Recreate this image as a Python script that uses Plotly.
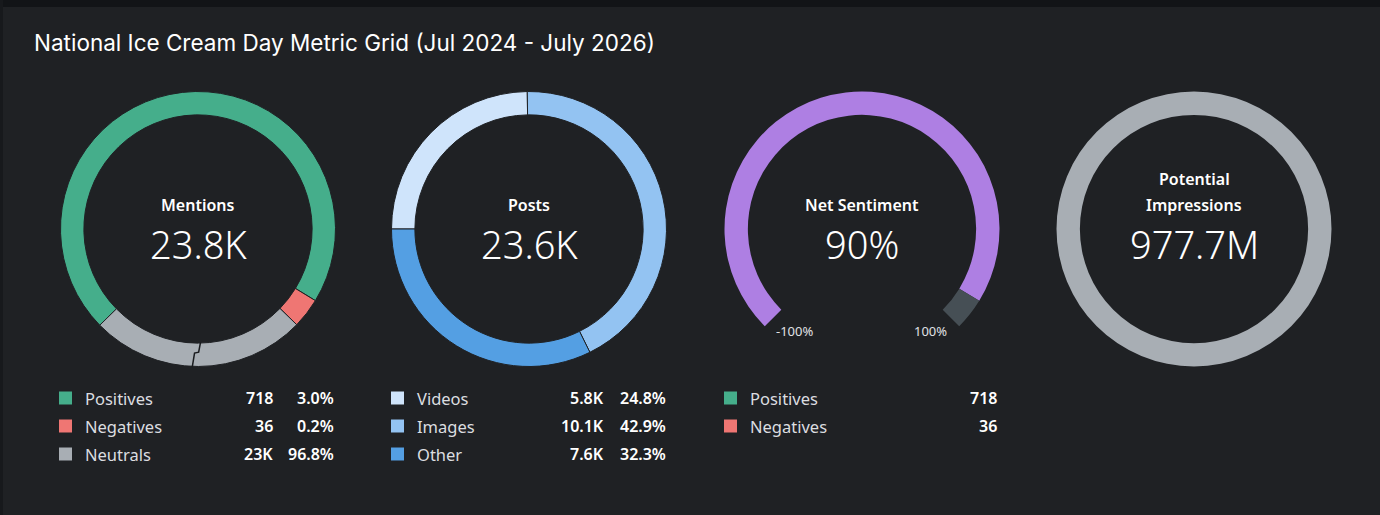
import math
import plotly.graph_objects as go

W, H = 1380, 515
BG = "#1f2124"

# ---------------- data ----------------
title_text = "National Ice Cream Day Metric Grid (Jul 2024 - July 2026)"

mention_labels = ["Positives", "Negatives", "Neutrals"]
mention_values = ["718", "36", "23K"]
mention_pcts = ["3.0%", "0.2%", "96.8%"]
mention_colors = ["#45ae8b", "#ef7673", "#a8aeb4"]
# arc spans (degrees) as drawn in the picture (neutrals drawn with an axis break)
mention_arc_deg = [255.8, 12.7, 91.5]
mention_start_deg = 225.6
mention_break_deg = 181.0
mentions_total = "23.8K"

post_labels = ["Videos", "Images", "Other"]
post_values = ["5.8K", "10.1K", "7.6K"]
post_pcts = [24.8, 42.9, 32.3]
post_colors = ["#cfe4fb", "#93c3f2", "#549fe3"]
posts_total = "23.6K"

sent_labels = ["Positives", "Negatives"]
sent_values = ["718", "36"]
sent_colors = ["#45ae8b", "#ef7673"]
net_sentiment = 90  # percent, range -100..100
sent_min, sent_max = -100, 100

impressions_total = "977.7M"

# ---------------- helpers ----------------
def px(x):
    return x / W

def py(y):
    return 1 - y / H

def dom(cx, cy, r):
    return dict(x=[px(cx - r), px(cx + r)], y=[py(cy + r), py(cy - r)])

R = 137.5
HOLE = 0.83
CY = 229
centers = [198, 529, 862, 1194]

fig = go.Figure()

# Mentions donut
fig.add_trace(go.Pie(
    values=mention_arc_deg, labels=mention_labels, sort=False, direction="clockwise",
    rotation=mention_start_deg, hole=HOLE, domain=dom(centers[0], CY, R),
    marker=dict(colors=mention_colors, line=dict(color=BG, width=1)),
    textinfo="none", hoverinfo="none", showlegend=False,
))

# Posts donut
fig.add_trace(go.Pie(
    values=post_pcts, labels=post_labels, sort=False, direction="clockwise",
    rotation=270, hole=HOLE, domain=dom(centers[1], CY, R),
    marker=dict(colors=post_colors, line=dict(color=BG, width=1)),
    textinfo="none", hoverinfo="none", showlegend=False,
))

# Net sentiment gauge (270 degree arc)
gauge_span = 270
frac = (net_sentiment - sent_min) / (sent_max - sent_min)
fig.add_trace(go.Pie(
    values=[gauge_span * frac, gauge_span * (1 - frac), 360 - gauge_span],
    labels=["value", "rest", "gap"], sort=False, direction="clockwise",
    rotation=225, hole=HOLE, domain=dom(centers[2], CY, R),
    marker=dict(colors=["#ae7fe3", "#464f55", "rgba(0,0,0,0)"], line=dict(width=0)),
    textinfo="none", hoverinfo="none", showlegend=False,
))

# Impressions ring
fig.add_trace(go.Pie(
    values=[1], labels=["Impressions"], sort=False, hole=HOLE,
    domain=dom(centers[3], CY, R),
    marker=dict(colors=["#a8aeb4"], line=dict(width=0)),
    textinfo="none", hoverinfo="none", showlegend=False,
))

shapes = []
annotations = []

# frame: dark top band and left strip
shapes.append(dict(type="rect", xref="paper", yref="paper", x0=0, x1=1, y0=py(7), y1=1,
                   fillcolor="#121417", line=dict(width=0), layer="below"))
shapes.append(dict(type="rect", xref="paper", yref="paper", x0=0, x1=px(3), y0=0, y1=1,
                   fillcolor="#17191c", line=dict(width=0), layer="below"))

# axis-break zigzag on neutrals arc
r_in = R * HOLE
def polar(r, deg):
    a = math.radians(deg)
    return centers[0] + r * math.sin(a), CY - r * math.cos(a)
zig = [(r_in - 1, mention_break_deg - 2.3), (r_in + 9, mention_break_deg - 1.3),
       (r_in + 10, mention_break_deg + 0.6), (R + 1, mention_break_deg + 1.4)]
path = "M " + " L ".join(f"{px(p[0]):.5f},{py(p[1]):.5f}" for p in (polar(r, d) for r, d in zig))
shapes.append(dict(type="path", xref="paper", yref="paper", path=path,
                   line=dict(color="#1a1c1f", width=1.5)))

# title
annotations.append(dict(text=title_text, x=px(32), y=py(42), xref="paper", yref="paper",
                        xanchor="left", yanchor="middle", showarrow=False,
                        font=dict(family="Inter", size=22.5, color="#ffffff", weight=400)))

# center labels
center_titles = [["Mentions"], ["Posts"], ["Net Sentiment"], ["Potential", "Impressions"]]
center_values = [mentions_total, posts_total, f"{net_sentiment}%", impressions_total]
for i, (t, v) in enumerate(zip(center_titles, center_values)):
    ys = [179, 205] if len(t) == 2 else [205]
    for line, ty in zip(t, ys):
        annotations.append(dict(text=line, x=px(centers[i]), y=py(ty), xref="paper", yref="paper",
                                xanchor="center", yanchor="middle", showarrow=False,
                                font=dict(family="Noto Sans", size=16, color="#ffffff", weight=600)))
    annotations.append(dict(text=v, x=px(centers[i]), y=py(244), xref="paper", yref="paper",
                            xanchor="center", yanchor="middle", showarrow=False,
                            font=dict(family="Noto Sans", size=38, color="#ffffff", weight=300)))

# gauge end labels
annotations.append(dict(text=f"{sent_min}%", x=px(794), y=py(331), xref="paper", yref="paper",
                        xanchor="center", yanchor="middle", showarrow=False,
                        font=dict(family="Noto Sans", size=13, color="#e0e2e4")))
annotations.append(dict(text=f"{sent_max}%", x=px(930), y=py(331), xref="paper", yref="paper",
                        xanchor="center", yanchor="middle", showarrow=False,
                        font=dict(family="Noto Sans", size=13, color="#e0e2e4")))

# legends
row_y = [398, 426, 454]
def legend(x0, labels, colors, vals, pcts, val_right, pct_right):
    for j, lab in enumerate(labels):
        y = row_y[j]
        shapes.append(dict(type="rect", xref="paper", yref="paper",
                           x0=px(x0), x1=px(x0 + 13), y0=py(y + 6.5), y1=py(y - 6.5),
                           fillcolor=colors[j], line=dict(width=0)))
        annotations.append(dict(text=lab, x=px(x0 + 24), y=py(y), xref="paper", yref="paper",
                                xanchor="left", yanchor="middle", showarrow=False,
                                font=dict(family="Noto Sans", size=16.5, color="#dcdee0")))
        annotations.append(dict(text=vals[j], x=px(val_right), y=py(y), xref="paper",
                                yref="paper", xanchor="right", yanchor="middle", showarrow=False,
                                font=dict(family="Noto Sans", size=16, color="#ffffff", weight=600)))
        if pcts is not None:
            annotations.append(dict(text=pcts[j], x=px(pct_right), y=py(y),
                                    xref="paper", yref="paper", xanchor="right",
                                    yanchor="middle", showarrow=False,
                                    font=dict(family="Noto Sans", size=16, color="#ffffff",
                                              weight=600)))

legend(59, mention_labels, mention_colors, mention_values, mention_pcts, 275, 336)
legend(391, post_labels, post_colors, post_values, [f"{p:.1f}%" for p in post_pcts], 606, 668)
legend(724, sent_labels, sent_colors, sent_values, None, 999, None)

fig.update_layout(
    width=W, height=H, margin=dict(l=0, r=0, t=0, b=0),
    paper_bgcolor=BG, plot_bgcolor=BG,
    shapes=shapes, annotations=annotations, showlegend=False,
)

fig.write_html("out.html", config={"displayModeBar": False})
